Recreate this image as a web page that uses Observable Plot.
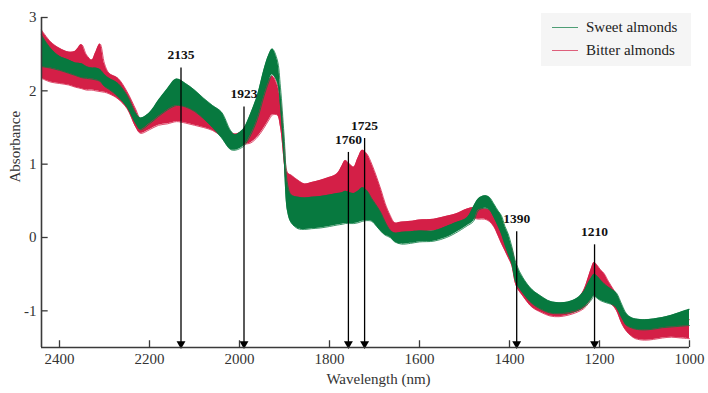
<!DOCTYPE html>
<html><head><meta charset="utf-8">
<script src="https://cdn.jsdelivr.net/npm/d3@7"></script>
<script src="https://cdn.jsdelivr.net/npm/@observablehq/plot@0.6"></script>
<style>
body{margin:0;background:#fff;}
#wrap{position:relative;width:708px;height:393px;font-family:"Liberation Serif",serif;}
#legend{position:absolute;left:541px;top:13px;width:150px;height:53px;background:#f5f5f5;}
.item{position:absolute;left:11px;height:20px;display:flex;align-items:center;font-size:15px;color:#222;white-space:nowrap;}
.sw{width:26px;height:0;border-top:1.5px solid;margin-right:8px;opacity:.7}
</style></head><body>
<div id="wrap"><div id="legend"></div></div>
<script>
const RED = "#d41f47";
const GREEN = "#07793f";
const seriesNames = ["Sweet almonds", "Bitter almonds"];

const wavelengths = [2440,2420,2400,2380,2365,2351,2340,2328,2320,2310,2300,2290,2270,2250,2230,2220,2200,2180,2160,2140,2120,2100,2080,2060,2040,2020,2010,2000,1990,1975,1960,1946,1935,1927,1916,1909,1901,1893,1885,1870,1855,1840,1820,1800,1783,1772,1765,1755,1746,1737,1727,1717,1706,1695,1685,1676,1665,1655,1640,1620,1600,1568,1540,1520,1494,1480,1469,1455,1445,1435,1425,1418,1410,1403,1395,1385,1370,1350,1330,1310,1290,1270,1250,1235,1225,1218,1212,1205,1198,1190,1180,1170,1162,1150,1140,1130,1120,1100,1080,1060,1040,1020,1000];

const sweetHigh = [2.76,2.58,2.47,2.42,2.38,2.37,2.33,2.31,2.31,2.29,2.22,2.17,2.10,1.94,1.69,1.63,1.70,1.87,2.03,2.16,2.10,2.01,1.90,1.80,1.71,1.46,1.40,1.43,1.49,1.69,1.94,2.28,2.49,2.57,2.42,2.05,1.40,0.72,0.58,0.55,0.54,0.55,0.56,0.58,0.60,0.61,0.63,0.61,0.60,0.63,0.68,0.64,0.53,0.43,0.33,0.21,0.10,0.06,0.07,0.08,0.09,0.09,0.15,0.20,0.27,0.42,0.53,0.57,0.55,0.46,0.36,0.30,0.15,0.05,-0.12,-0.36,-0.55,-0.71,-0.80,-0.87,-0.89,-0.88,-0.83,-0.74,-0.62,-0.55,-0.50,-0.53,-0.58,-0.63,-0.68,-0.72,-0.76,-0.92,-1.04,-1.09,-1.11,-1.12,-1.11,-1.09,-1.06,-1.02,-0.98];
const sweetLow = [2.33,2.31,2.28,2.24,2.21,2.18,2.17,2.16,2.15,2.13,2.06,2.02,1.92,1.78,1.55,1.47,1.55,1.65,1.74,1.80,1.78,1.72,1.62,1.50,1.36,1.20,1.19,1.21,1.25,1.40,1.62,1.92,2.12,2.22,2.12,1.80,1.10,0.35,0.20,0.12,0.11,0.12,0.13,0.15,0.17,0.18,0.19,0.19,0.19,0.20,0.22,0.23,0.22,0.15,0.08,0.03,0.00,-0.06,-0.09,-0.08,-0.06,-0.05,0.00,0.06,0.16,0.22,0.37,0.40,0.38,0.28,0.15,0.05,-0.10,-0.22,-0.35,-0.62,-0.76,-0.90,-0.98,-1.03,-1.04,-1.03,-1.00,-0.95,-0.90,-0.85,-0.80,-0.83,-0.86,-0.88,-0.90,-0.92,-0.96,-1.10,-1.20,-1.23,-1.25,-1.26,-1.25,-1.23,-1.22,-1.21,-1.20];
const bitterHigh = [2.83,2.67,2.58,2.53,2.54,2.63,2.49,2.42,2.52,2.64,2.37,2.24,2.17,1.99,1.74,1.62,1.62,1.70,1.80,1.88,1.86,1.80,1.72,1.64,1.56,1.44,1.41,1.43,1.47,1.62,1.82,2.02,2.15,2.20,2.08,1.87,1.30,0.88,0.85,0.78,0.73,0.75,0.78,0.82,0.87,0.98,1.05,1.00,0.96,1.08,1.19,1.14,1.00,0.82,0.64,0.46,0.30,0.20,0.21,0.22,0.24,0.25,0.29,0.32,0.39,0.41,0.40,0.39,0.38,0.33,0.25,0.17,0.05,-0.05,-0.15,-0.40,-0.58,-0.75,-0.83,-0.90,-0.92,-0.91,-0.85,-0.72,-0.55,-0.42,-0.34,-0.38,-0.44,-0.49,-0.60,-0.70,-0.78,-0.96,-1.10,-1.16,-1.19,-1.20,-1.19,-1.18,-1.16,-1.14,-1.12];
const bitterLow = [2.17,2.12,2.10,2.08,2.05,2.03,2.01,2.01,2.00,1.99,1.98,1.96,1.89,1.76,1.50,1.42,1.47,1.53,1.55,1.58,1.56,1.53,1.50,1.46,1.38,1.27,1.25,1.25,1.27,1.29,1.37,1.49,1.60,1.67,1.67,1.51,1.05,0.55,0.38,0.36,0.36,0.37,0.38,0.40,0.42,0.45,0.48,0.46,0.45,0.48,0.52,0.48,0.40,0.32,0.22,0.12,0.06,0.05,0.06,0.07,0.08,0.09,0.13,0.18,0.25,0.26,0.25,0.25,0.22,0.15,0.02,-0.08,-0.18,-0.27,-0.38,-0.66,-0.80,-0.95,-1.02,-1.07,-1.08,-1.06,-1.02,-0.97,-0.90,-0.82,-0.74,-0.78,-0.82,-0.85,-0.88,-0.93,-1.00,-1.18,-1.28,-1.34,-1.38,-1.40,-1.39,-1.37,-1.36,-1.37,-1.38];

const arrowLabels = ["2135","1923","1760","1725","1390","1210"];
const arrowPositions = [2130,1990,1758,1722,1384,1211];
const arrowTops = [2.31,1.78,1.16,1.35,0.08,-0.10];

const xTicks = [2400,2200,2000,1800,1600,1400,1200,1000];
const yTicks = [-1,0,1,2,3];
const xLabel = "Wavelength (nm)";
const yLabel = "Absorbance";

const sweet = wavelengths.map((w,i)=>({w, hi: sweetHigh[i], lo: sweetLow[i]}));
const bitter = wavelengths.map((w,i)=>({w, hi: bitterHigh[i], lo: bitterLow[i]}));
const arrows = arrowLabels.map((label,i)=>({label, pos: arrowPositions[i], top: arrowTops[i]}));

const AX = "#3a3a3a";
const chart = Plot.plot({
  width: 708, height: 393,
  marginLeft: 41, marginRight: 19, marginTop: 17, marginBottom: 46,
  style: {fontFamily: "'Liberation Serif', serif", fontSize: "15px", color: "#333", background: "transparent"},
  x: {domain: [2440, 1000]},
  y: {domain: [-1.5, 3]},
  marks: [
    Plot.areaY(bitter, {x: "w", y1: "lo", y2: "hi", fill: RED, curve: "catmull-rom"}),
    Plot.lineY(bitter, {x: "w", y: "hi", stroke: RED, strokeWidth: 0.8, curve: "catmull-rom"}),
    Plot.lineY(bitter, {x: "w", y: "lo", stroke: RED, strokeWidth: 0.8, curve: "catmull-rom"}),
    Plot.areaY(sweet, {x: "w", y1: "lo", y2: "hi", fill: GREEN, curve: "catmull-rom"}),
    Plot.lineY(sweet, {x: "w", y: "hi", stroke: GREEN, strokeWidth: 0.8, curve: "catmull-rom"}),
    Plot.lineY(sweet, {x: "w", y: "lo", stroke: GREEN, strokeWidth: 0.8, curve: "catmull-rom"}),
    Plot.ruleX(arrows, {x: "pos", y1: "top", y2: -1.5, stroke: "#000", strokeWidth: 1.3}),
    Plot.dot(arrows, {x: "pos", y: -1.5, symbol: "triangle", rotate: 180, r: 3.3, fill: "#000", stroke: "none", dy: -3.6}),
    Plot.text(arrows, {x: "pos", y: "top", text: "label", dy: -13, fontWeight: "bold", fontSize: 13.5, fill: "#111"}),
    Plot.ruleX(xTicks, {x: d => d, y1: -1.5, y2: -1.5 + 0.092, stroke: AX, strokeWidth: 1.3}),
    Plot.ruleY(yTicks, {y: d => d, x1: 2440, x2: 2440 - 14.8, stroke: AX, strokeWidth: 1.3}),
    Plot.ruleY([-1.5], {stroke: AX, strokeWidth: 1.6}),
    Plot.ruleX([2440], {y1: -1.5, y2: 3, stroke: AX, strokeWidth: 1.6}),
    Plot.axisX({ticks: xTicks, tickSize: 0, tickPadding: 6, label: null, tickFormat: d => String(d), fontSize: 15}),
    Plot.axisY({ticks: yTicks, tickSize: 0, tickPadding: 5, label: null, tickFormat: d => String(d), fontSize: 15}),
    Plot.text([xLabel], {frameAnchor: "bottom", text: d => d, dy: 36, dx: 13, fontSize: 15, fill: "#333"}),
    Plot.text([yLabel], {frameAnchor: "left", text: d => d, dx: -26, rotate: -90, fontSize: 15, fill: "#333"})
  ]
});
document.getElementById("wrap").prepend(chart);

const legend = document.getElementById("legend");
[[seriesNames[0], GREEN], [seriesNames[1], RED]].forEach(([name, c], i) => {
  const it = document.createElement("div");
  it.className = "item";
  it.style.top = (i === 0 ? 4 : 27) + "px";
  const sw = document.createElement("span");
  sw.className = "sw";
  sw.style.borderColor = c;
  const t = document.createElement("span");
  t.textContent = name;
  it.append(sw, t);
  legend.append(it);
});
</script>
</body></html>
